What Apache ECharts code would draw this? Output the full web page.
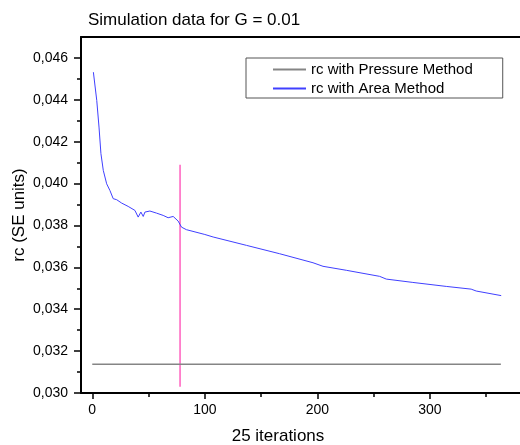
<!DOCTYPE html>
<html>
<head>
<meta charset="utf-8">
<script src="https://cdn.jsdelivr.net/npm/echarts@6/dist/echarts.min.js"></script>
<style>html,body{margin:0;padding:0;background:#fff;}#c{width:520px;height:445px;}</style>
</head>
<body>
<div id="c"></div>
<script>
var titleText = 'Simulation data for G = 0.01';
var xName = '25 iterations';
var yName = 'rc (SE units)';
var seriesNames = ['rc with Pressure Method', 'rc with Area Method'];

var xTicks = [0, 100, 200, 300];
var xMinorTicks = [50, 150, 250, 350];
var yTicks = [0.030, 0.032, 0.034, 0.036, 0.038, 0.040, 0.042, 0.044, 0.046];
var yMinorTicks = [0.031, 0.033, 0.035, 0.037, 0.039, 0.041, 0.043, 0.045];

var pressureX = [0, 363];
var pressureY = [0.03137, 0.03137];

var areaX = [1, 4, 6, 7.7, 9.8, 12.8, 15.7, 18.6, 21.7, 26.1, 31.9, 37.9, 40.8, 43.2, 45.3, 46.8, 51.2, 57.1, 63, 67.4, 71.9, 76.3, 79.3, 83.6, 100, 107.4, 137, 166.5, 196.1, 205, 225.7, 255.3, 261.2, 284.8, 314.5, 336.6, 341.1, 363.3];
var areaY = [0.04532, 0.04397, 0.04270, 0.04143, 0.04063, 0.03999, 0.03967, 0.03928, 0.03923, 0.03907, 0.03891, 0.03872, 0.03840, 0.03864, 0.03843, 0.03864, 0.03869, 0.03859, 0.03848, 0.03837, 0.03843, 0.03821, 0.03792, 0.03780, 0.03757, 0.03745, 0.03705, 0.03665, 0.03622, 0.03605, 0.03586, 0.03557, 0.03544, 0.03528, 0.03509, 0.03496, 0.03487, 0.03465];

var markerX = [78, 78];
var markerY = [0.0303, 0.0409];

function zip(a, b) { return a.map(function (v, i) { return [v, b[i]]; }); }

var FONT = "'Liberation Sans', Arial, sans-serif";
var chart = echarts.init(document.getElementById('c'), null, {renderer: 'canvas'});
chart.setOption({
  animation: false,
  backgroundColor: '#fff',
  textStyle: {fontFamily: FONT},
  title: {
    text: titleText, left: 83, top: 7,
    textStyle: {fontFamily: FONT, fontSize: 17, fontWeight: 'normal', color: '#000'}
  },
  legend: {
    data: seriesNames, orient: 'vertical', left: 246, top: 58,
    padding: [4, 30, 2, 26], itemWidth: 33, itemHeight: 14, itemGap: 4,
    borderColor: '#555', borderWidth: 1, backgroundColor: '#fff',
    itemStyle: {opacity: 0},
    textStyle: {fontFamily: FONT, fontSize: 15, color: '#000'}
  },
  grid: {left: 81, right: 0, top: 37, bottom: 52, containLabel: false, outerBoundsMode: 'none'},
  xAxis: [
    {
      type: 'value', position: 'bottom', min: -10, max: 380,
      name: xName, nameLocation: 'middle', nameGap: 35, nameMoveOverlap: false,
      nameTextStyle: {fontFamily: FONT, fontSize: 17, color: '#000', padding: [0, 45, 0, 0]},
      axisLine: {show: true, onZero: false, lineStyle: {color: '#000', width: 2}},
      axisTick: {show: true, customValues: xTicks, length: 6, lineStyle: {color: '#000', width: 1.5}},
      axisLabel: {customValues: xTicks, margin: 10, fontFamily: FONT, fontSize: 14, color: '#000'},
      splitLine: {show: false}
    },
    {
      type: 'value', position: 'bottom', min: -10, max: 380,
      axisLine: {show: false, onZero: false},
      axisTick: {show: true, customValues: xMinorTicks, length: 4, lineStyle: {color: '#000', width: 1.5}},
      axisLabel: {show: false}, splitLine: {show: false}
    },
    {
      type: 'value', position: 'top', min: -10, max: 380,
      axisLine: {show: true, onZero: false, lineStyle: {color: '#000', width: 2}},
      axisTick: {show: false}, axisLabel: {show: false}, splitLine: {show: false}
    }
  ],
  yAxis: [
    {
      type: 'value', position: 'left', min: 0.030, max: 0.047,
      name: yName, nameLocation: 'middle', nameGap: 53, nameMoveOverlap: false,
      nameTextStyle: {fontFamily: FONT, fontSize: 17, color: '#000'},
      axisLine: {show: true, onZero: false, lineStyle: {color: '#000', width: 2}},
      axisTick: {show: true, customValues: yTicks, length: 7, lineStyle: {color: '#000', width: 1.5}},
      axisLabel: {
        customValues: yTicks, margin: 13, fontFamily: FONT, fontSize: 14, color: '#000',
        formatter: function (v) { return v.toFixed(3).replace('.', ','); }
      },
      splitLine: {show: false}
    },
    {
      type: 'value', position: 'left', min: 0.030, max: 0.047,
      axisLine: {show: false, onZero: false},
      axisTick: {show: true, customValues: yMinorTicks, length: 4, lineStyle: {color: '#000', width: 1.5}},
      axisLabel: {show: false}, splitLine: {show: false}
    }
  ],
  series: [
    {
      name: seriesNames[0], type: 'line', xAxisIndex: 0, yAxisIndex: 0,
      data: zip(pressureX, pressureY), showSymbol: false, symbol: 'none',
      lineStyle: {color: '#858585', width: 1.5}, itemStyle: {color: '#666'}
    },
    {
      name: seriesNames[1], type: 'line', xAxisIndex: 0, yAxisIndex: 0,
      data: zip(areaX, areaY), showSymbol: false, symbol: 'none',
      lineStyle: {color: '#4040ff', width: 1}, itemStyle: {color: '#4040ff'}
    },
    {
      name: 'marker', type: 'line', xAxisIndex: 0, yAxisIndex: 0,
      data: zip(markerX, markerY), showSymbol: false, symbol: 'none',
      lineStyle: {color: '#ff5fbf', width: 1.5}, z: 1
    }
  ]
});
</script>
</body>
</html>
